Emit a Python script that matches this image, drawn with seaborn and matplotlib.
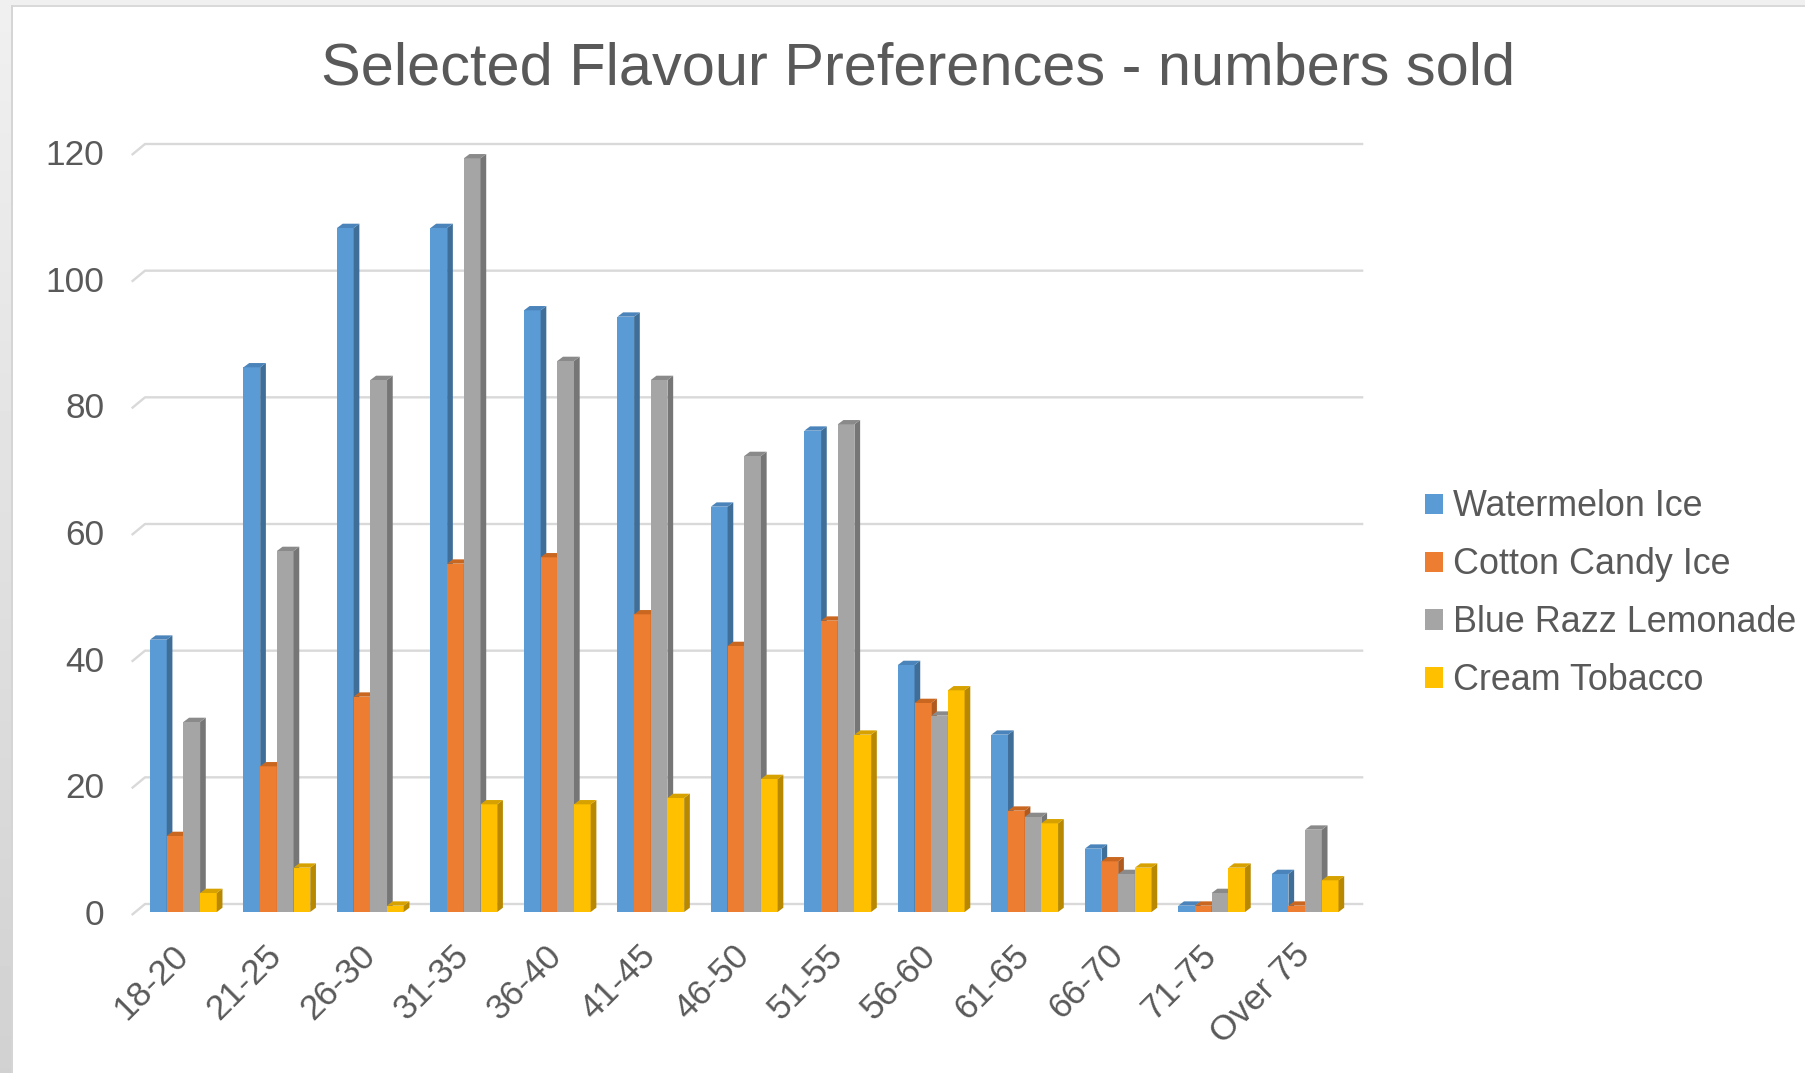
import numpy as np
import pandas as pd
import matplotlib
matplotlib.use("Agg")
import matplotlib.pyplot as plt
import seaborn as sns
from matplotlib.patches import Polygon, Rectangle, Patch
from matplotlib.transforms import ScaledTranslation

# ---- data -------------------------------------------------------------
age_groups = ["18-20", "21-25", "26-30", "31-35", "36-40", "41-45", "46-50",
              "51-55", "56-60", "61-65", "66-70", "71-75", "Over 75"]
watermelon_ice = [43, 86, 108, 108, 95, 94, 64, 76, 39, 28, 10, 1, 6]
cotton_candy_ice = [12, 23, 34, 55, 56, 47, 42, 46, 33, 16, 8, 1, 1]
blue_razz_lemonade = [30, 57, 84, 119, 87, 84, 72, 77, 31, 15, 6, 3, 13]
cream_tobacco = [3, 7, 1, 17, 17, 18, 21, 28, 35, 14, 7, 7, 5]
flavours = ["Watermelon Ice", "Cotton Candy Ice", "Blue Razz Lemonade", "Cream Tobacco"]
y_ticks = [0, 20, 40, 60, 80, 100, 120]
title = "Selected Flavour Preferences - numbers sold"

series = [watermelon_ice, cotton_candy_ice, blue_razz_lemonade, cream_tobacco]
df = pd.DataFrame({
    "age": np.tile(age_groups, len(flavours)),
    "flavour": np.repeat(flavours, len(age_groups)),
    "sold": np.concatenate(series),
})

# ---- styling ----------------------------------------------------------
face_colors = ["#5B9BD5", "#ED7D31", "#A5A5A5", "#FFC000"]
side_colors = ["#3F6E98", "#B05A1F", "#767676", "#B78800"]
top_colors = ["#4A84BA", "#C9661F", "#8A8A8A", "#D7A200"]
text_color = "#595959"
grid_color = "#D9D9D9"

sns.set_theme(style="white")
plt.rcParams["font.family"] = ["Liberation Sans", "DejaVu Sans"]

W, H = 1805, 1073
fig = plt.figure(figsize=(W / 100, H / 100), dpi=100)
fig.patch.set_facecolor("white")

# window frame around the chart area
fig.add_artist(Rectangle((0, 1 - 5 / H), 1, 5 / H, transform=fig.transFigure,
                         facecolor="#F0F0F0", edgecolor="none", zorder=0))
fig.add_artist(Rectangle((0, 1 - 7 / H), 1, 2 / H, transform=fig.transFigure,
                         facecolor="#D9D9D9", edgecolor="none", zorder=0))
grad_ax = fig.add_axes([0, 0, 11 / W, 1 - 5 / H])
grad_ax.imshow(np.linspace(0.94, 0.82, 200)[:, None], cmap="gray", vmin=0, vmax=1,
               aspect="auto", extent=(0, 1, 0, 1))
grad_ax.set_axis_off()
fig.add_artist(Rectangle((11 / W, 0), 2 / W, 1 - 5 / H, transform=fig.transFigure,
                         facecolor="#D5D5D5", edgecolor="none", zorder=0))

# plot area (front plane of the bars)
left_px, right_px, bottom_px, top_px = 131.7, 1350.0, 912.0, 152.0
ax = fig.add_axes([left_px / W, 1 - bottom_px / H,
                   (right_px - left_px) / W, (bottom_px - top_px) / H])
ax.set_facecolor("none")

sns.barplot(data=df, x="age", y="sold", hue="flavour", order=age_groups,
            hue_order=flavours, palette=face_colors, saturation=1, width=0.714,
            gap=0, linewidth=0, edgecolor="none", ax=ax, legend=False)

ax.set_xlim(-0.553, 12.48)
ax.set_ylim(0, 120)
for s in ax.spines.values():
    s.set_visible(False)
ax.grid(False)


def shift(x, y, dxp, dyp):
    """Move a data point by a pixel offset and return data coordinates."""
    px, py = ax.transData.transform((x, y))
    return ax.transData.inverted().transform((px + dxp, py + dyp))


# back-wall gridlines with a short perspective segment on the left
depth_dx, depth_dy = 13.3, 8.0
x_lo, x_hi = ax.get_xlim()
for v in y_ticks:
    a = shift(x_lo, v, 0, -3)
    b = shift(x_lo, v, depth_dx, depth_dy)
    c = shift(x_hi, v, depth_dx, depth_dy)
    ax.plot([a[0], b[0], c[0]], [a[1], b[1], c[1]], color=grid_color, lw=1.7,
            zorder=1, clip_on=False, solid_capstyle="butt")

# extruded side and top faces on every bar
bar_dx, bar_dy = 5.7, 4.3
for k, cont in enumerate(ax.containers):
    for bar in cont:
        x0, w, h = bar.get_x(), bar.get_width(), bar.get_height()
        x1 = x0 + w
        bar.set_zorder(3 + k)
        p_b = shift(x1, 0, bar_dx, bar_dy)
        p_t = shift(x1, h, bar_dx, bar_dy)
        p_lt = shift(x0, h, bar_dx, bar_dy)
        side = Polygon([(x1, 0), (x1, h), tuple(p_t), tuple(p_b)], closed=True,
                       facecolor=side_colors[k], edgecolor="none",
                       zorder=3 + k, clip_on=False)
        top = Polygon([(x0, h), (x1, h), tuple(p_t), tuple(p_lt)], closed=True,
                      facecolor=top_colors[k], edgecolor="none",
                      zorder=3 + k, clip_on=False)
        ax.add_patch(side)
        ax.add_patch(top)

# axes text
ax.set_xlabel("")
ax.set_ylabel("")
ax.set_yticks(y_ticks)
ax.set_yticklabels([str(v) for v in y_ticks])
ax.tick_params(axis="y", length=0, pad=19.5, labelsize=25.4, labelcolor=text_color)
ax.tick_params(axis="x", length=0, pad=19, labelsize=25.4, labelcolor=text_color)
ax.set_xticks(range(len(age_groups)))
ax.set_xticklabels(age_groups, rotation=45, ha="right", rotation_mode="anchor")
for lab in ax.get_xticklabels():
    lab.set_transform(lab.get_transform() +
                      ScaledTranslation(-12 / 100, 0, fig.dpi_scale_trans))

fig.text(918 / W, 1 - 84.3 / H, title, ha="center", va="baseline",
         fontsize=42.8, color=text_color)

# legend
handles = [Patch(facecolor=c, edgecolor="none") for c in face_colors]
fig.legend(handles, flavours, loc="upper left",
           bbox_to_anchor=(1425 / W, 1 - 489.5 / H), frameon=False,
           fontsize=25.8, labelcolor=text_color, handlelength=0.5,
           handleheight=0.5, handletextpad=0.28, labelspacing=0.64,
           borderaxespad=0, borderpad=0)

fig.savefig("out.png", dpi=100, facecolor=fig.get_facecolor())
